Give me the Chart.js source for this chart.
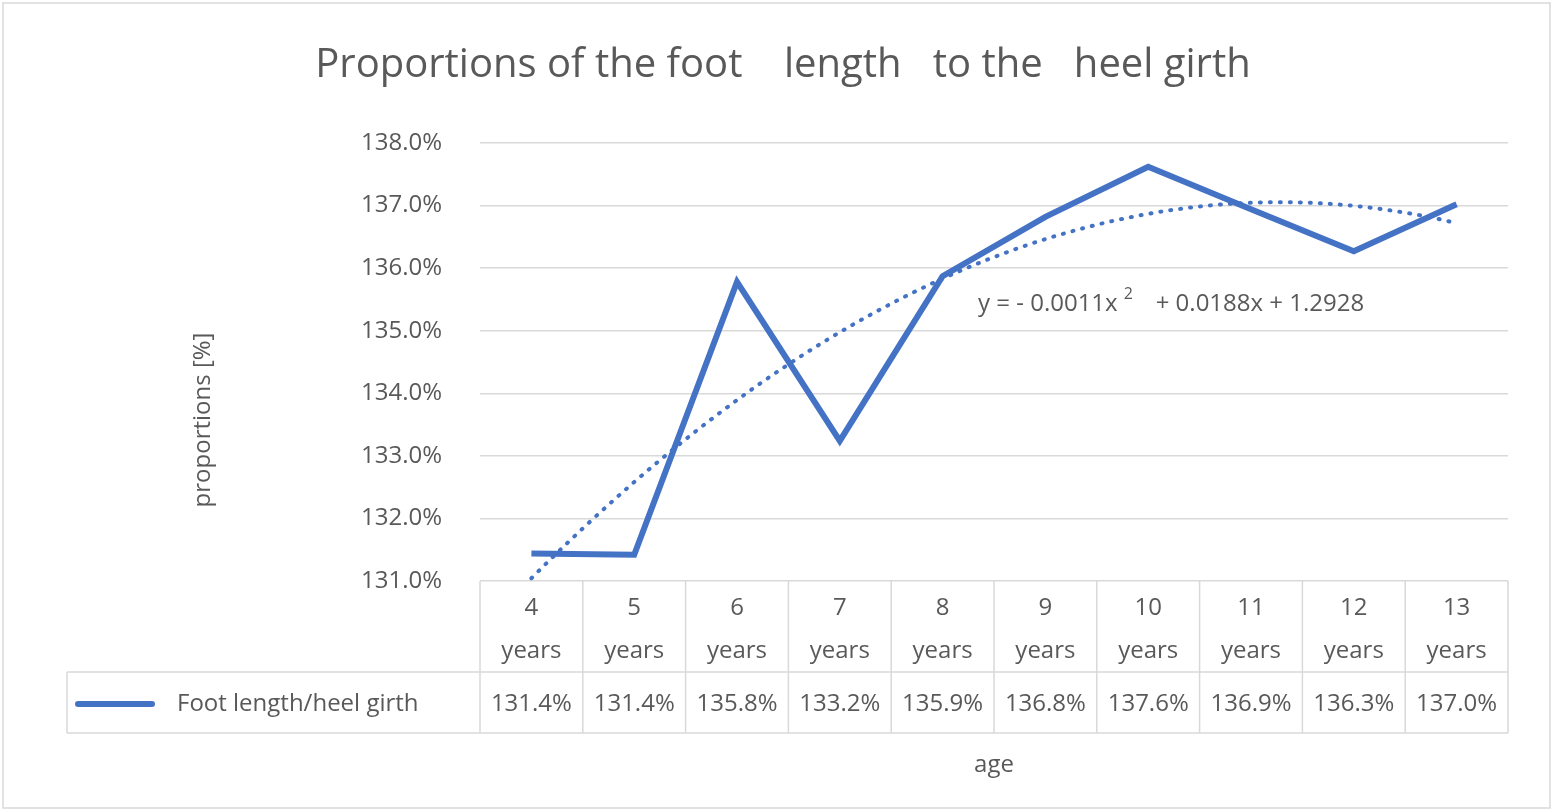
<!DOCTYPE html>
<html lang="en">
<head>
<meta charset="UTF-8">
<title>Proportions of the foot length to the heel girth</title>
<script src="https://cdn.jsdelivr.net/npm/chart.js@4/dist/chart.umd.min.js"></script>
<style>
  body { margin: 0; background: #fff; }
  #wrap { width: 1553px; height: 811px; }
</style>
</head>
<body>
<div id="wrap"><canvas id="myChart" width="1553" height="811"></canvas></div>
<script>
const ages = ['4', '5', '6', '7', '8', '9', '10', '11', '12', '13'];
const proportions = [131.44, 131.42, 135.78, 133.24, 135.87, 136.82, 137.62, 136.94, 136.27, 137.02];
const tableLabels = ['131.4%', '131.4%', '135.8%', '133.2%', '135.9%', '136.8%', '137.6%', '136.9%', '136.3%', '137.0%'];
const seriesName = 'Foot length/heel girth';
const trendText = 'y = - 0.0011x';

const textColor = '#595959';
const gridColor = '#d9d9d9';
const lineColor = '#4472C4';
const fontFamily = '"Open Sans", "Noto Sans", sans-serif';

// second order polynomial trend (least squares), the way the spreadsheet fits it
function polyFit(ys) {
  let s = [0, 0, 0, 0, 0], t = [0, 0, 0];
  ys.forEach((y, i) => {
    const x = i + 1;
    for (let k = 0; k < 5; k++) s[k] += Math.pow(x, k);
    for (let k = 0; k < 3; k++) t[k] += y * Math.pow(x, k);
  });
  const m = [[s[0], s[1], s[2], t[0]], [s[1], s[2], s[3], t[1]], [s[2], s[3], s[4], t[2]]];
  for (let i = 0; i < 3; i++) {
    for (let j = i + 1; j < 3; j++) {
      const f = m[j][i] / m[i][i];
      for (let k = i; k < 4; k++) m[j][k] -= f * m[i][k];
    }
  }
  const c = [0, 0, 0];
  for (let i = 2; i >= 0; i--) {
    let v = m[i][3];
    for (let k = i + 1; k < 3; k++) v -= m[i][k] * c[k];
    c[i] = v / m[i][i];
  }
  return c;
}
const coef = polyFit(proportions);
const trend = [];
for (let x = 1; x <= 10.001; x += 0.1) {
  trend.push({ x: x, y: coef[0] + coef[1] * x + coef[2] * x * x });
}

const tablePlugin = {
  id: 'tablePlugin',
  afterDraw(chart) {
    const ctx = chart.ctx;
    const xs = chart.scales.x, area = chart.chartArea;
    const top = area.bottom, mid = 672, bot = 733, left = 67;
    ctx.save();
    ctx.strokeStyle = gridColor;
    ctx.lineWidth = 1.5;
    ctx.beginPath();
    for (let i = 0; i <= ages.length; i++) {
      const x = xs.getPixelForValue(i + 0.5);
      ctx.moveTo(x, top); ctx.lineTo(x, bot);
    }
    ctx.moveTo(left, mid); ctx.lineTo(area.right, mid);
    ctx.moveTo(left, bot); ctx.lineTo(area.right, bot);
    ctx.moveTo(left, mid); ctx.lineTo(left, bot);
    ctx.stroke();

    ctx.fillStyle = textColor;
    ctx.font = '24px ' + fontFamily;
    ctx.textAlign = 'center';
    ctx.textBaseline = 'middle';
    ages.forEach((a, i) => {
      const x = xs.getPixelForValue(i + 1);
      ctx.fillText(a, x, 608);
      ctx.fillText('years', x, 651);
      ctx.fillText(tableLabels[i], x, 704);
    });
    // legend key
    ctx.strokeStyle = lineColor;
    ctx.lineWidth = 6;
    ctx.lineCap = 'round';
    ctx.beginPath(); ctx.moveTo(78, 704); ctx.lineTo(152, 704); ctx.stroke();
    ctx.textAlign = 'left';
    ctx.fillText(seriesName, 177, 704);

    // axis titles
    ctx.textAlign = 'center';
    ctx.fillText('age', 994, 765);
    ctx.save();
    ctx.translate(203, 420);
    ctx.rotate(-Math.PI / 2);
    ctx.fillText('proportions [%]', 0, 0);
    ctx.restore();

    // chart title
    ctx.font = '40px ' + fontFamily;
    ctx.fillText('Proportions of the foot    length   to the   heel girth', 783, 66);

    // trend equation
    ctx.font = '24px ' + fontFamily;
    ctx.textAlign = 'left';
    ctx.fillText(trendText, 978, 304);
    let w = ctx.measureText(trendText).width;
    ctx.font = '16px ' + fontFamily;
    ctx.fillText('2', 978 + w + 6, 294);
    ctx.font = '24px ' + fontFamily;
    ctx.fillText('+ 0.0188x + 1.2928', 978 + w + 38, 304);

    // outer border
    ctx.strokeStyle = gridColor;
    ctx.lineWidth = 1.5;
    ctx.strokeRect(3, 3, 1547, 805);
    ctx.restore();
  }
};

const config = {
  type: 'line',
  data: {
    datasets: [{
      label: seriesName,
      data: proportions.map((v, i) => ({ x: i + 1, y: v })),
      borderColor: lineColor,
      borderWidth: 6,
      pointRadius: 0,
      tension: 0,
      order: 1
    }, {
      label: 'Trend',
      data: trend,
      borderColor: lineColor,
      borderWidth: 4,
      borderDash: [1, 9],
      borderCapStyle: 'round',
      pointRadius: 0,
      tension: 0,
      order: 2
    }]
  },
  options: {
    responsive: false,
    animation: false,
    layout: { padding: { top: 143, bottom: 230, right: 45, left: 0 } },
    plugins: { legend: { display: false }, title: { display: false }, tooltip: { enabled: false } },
    scales: {
      x: {
        type: 'linear',
        min: 0.5, max: 10.5,
        display: false
      },
      y: {
        min: 131, max: 138,
        afterFit(scale) { scale.width = 480; },
        border: { display: false },
        grid: { color: gridColor, lineWidth: 1.5, drawTicks: false },
        ticks: {
          stepSize: 1,
          padding: 38,
          color: textColor,
          font: { size: 24, family: fontFamily },
          callback: v => v.toFixed(1) + '%'
        }
      }
    }
  },
  plugins: [tablePlugin]
};

new Chart(document.getElementById('myChart'), config);
</script>
</body>
</html>
